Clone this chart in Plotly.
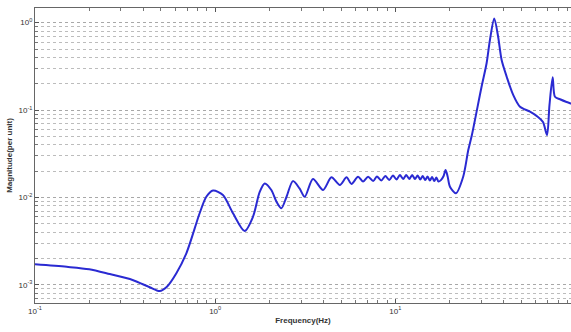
import plotly.graph_objects as go

# Frequency response magnitude (per unit) vs frequency (Hz)
freq_hz = [
    0.10, 0.15, 0.20, 0.26, 0.348, 0.433, 0.492, 0.538, 0.609, 0.692, 0.82,
    0.893, 0.973, 1.104, 1.256, 1.458, 1.622, 1.767, 1.884, 2.05, 2.19, 2.33, 2.49,
    2.70, 2.94, 3.14, 3.49, 3.97, 4.42, 4.92, 5.36, 5.71, 6.21, 6.62, 7.06, 7.53,
    7.90, 8.35, 8.80, 9.25, 9.70, 10.15, 10.6, 11.05, 11.5, 11.95, 12.4, 12.85,
    13.3, 13.75, 14.2, 14.65, 15.1, 15.55, 16.0, 16.45, 16.9, 17.35, 17.9, 18.5,
    19.0, 19.5, 20.1, 21.7, 23.8, 25.4, 26.6, 30.1, 32.1, 33.5, 35.4, 37.2, 38.9,
    41.5, 45.1, 49.2, 55.9, 61.9, 66.0, 69.5, 71.7, 74.7, 76.9, 82.0, 93.2, 100.0,
]
magnitude = [
    1.72e-3, 1.61e-3, 1.51e-3, 1.33e-3, 1.14e-3, 9.4e-4, 8.5e-4, 9.46e-4, 1.36e-3,
    2.30e-3, 6.6e-3,
    1.02e-2, 1.20e-2, 1.07e-2, 6.6e-3, 4.14e-3, 6.03e-3, 1.16e-2, 1.45e-2, 1.22e-2,
    8.95e-3, 7.52e-3, 1.02e-2,
    1.54e-2, 1.27e-2, 1.02e-2, 1.63e-2, 1.22e-2, 1.70e-2, 1.39e-2, 1.70e-2, 1.43e-2,
    1.73e-2, 1.52e-2, 1.73e-2, 1.54e-2,
    1.739e-2, 1.564e-2, 1.762e-2, 1.585e-2, 1.785e-2, 1.606e-2, 1.808e-2, 1.628e-2,
    1.808e-2, 1.628e-2, 1.808e-2, 1.628e-2,
    1.785e-2, 1.606e-2, 1.762e-2, 1.585e-2, 1.739e-2, 1.564e-2, 1.716e-2, 1.544e-2,
    1.693e-2, 1.52e-2, 1.58e-2, 1.75e-2,
    2.06e-2, 1.75e-2, 1.33e-2, 1.12e-2, 1.73e-2, 3.49e-2, 5.19e-2, 0.185, 0.343,
    0.634, 1.12, 0.691, 0.374,
    0.241, 0.149, 0.109, 0.0959, 0.0834, 0.0731, 0.0519, 0.114, 0.237, 0.142,
    0.133, 0.120, 0.117,
]

x_tick_vals = [0.1, 1, 10]
x_tick_text = ["10<sup>-1</sup>", "10<sup>0</sup>", "10<sup>1</sup>"]
y_tick_vals = [1e-3, 1e-2, 1e-1, 1]
y_tick_text = ["10<sup>-3</sup>", "10<sup>-2</sup>", "10<sup>-1</sup>", "10<sup>0</sup>"]

font_family = "Liberation Sans, Arial, sans-serif"

fig = go.Figure(
    go.Scatter(
        x=freq_hz,
        y=magnitude,
        mode="lines",
        line=dict(color="#2a2ad2", width=2, shape="spline", smoothing=0.8),
        hoverinfo="skip",
    )
)

fig.update_layout(
    width=571,
    height=332,
    margin=dict(l=35, r=0, t=8, b=29),
    paper_bgcolor="white",
    plot_bgcolor="white",
    showlegend=False,
    font=dict(family=font_family, size=8, color="#333333"),
)

fig.update_xaxes(
    type="log",
    range=[-1, 1.975],
    tickvals=x_tick_vals,
    ticktext=x_tick_text,
    ticks="inside",
    ticklen=4,
    tickcolor="#555555",
    showline=True,
    linecolor="#666666",
    linewidth=1,
    mirror="ticks",
    showgrid=False,
    zeroline=False,
    minor=dict(ticks="inside", ticklen=3, tickcolor="#777777", dtick="D1", showgrid=False),
    title=dict(text="<b>Frequency(Hz)</b>", standoff=2, font=dict(size=8, color="#333333")),
    tickfont=dict(size=8, color="#333333"),
)

fig.update_yaxes(
    type="log",
    range=[-3.207, 0.168],
    tickvals=y_tick_vals,
    ticktext=y_tick_text,
    ticks="inside",
    ticklen=4,
    tickcolor="#555555",
    showline=True,
    linecolor="#666666",
    linewidth=1,
    showgrid=True,
    gridcolor="#a8a8a8",
    griddash="dot",
    gridwidth=1,
    zeroline=False,
    minor=dict(ticks="inside", ticklen=3, tickcolor="#777777", dtick="D1",
               showgrid=True, gridcolor="#bcbcbc", griddash="dot", gridwidth=1),
    title=dict(text="<b>Magnitude(per unit)</b>", standoff=4, font=dict(size=8, color="#333333")),
    tickfont=dict(size=8, color="#333333"),
)

fig.write_html("out.html")
